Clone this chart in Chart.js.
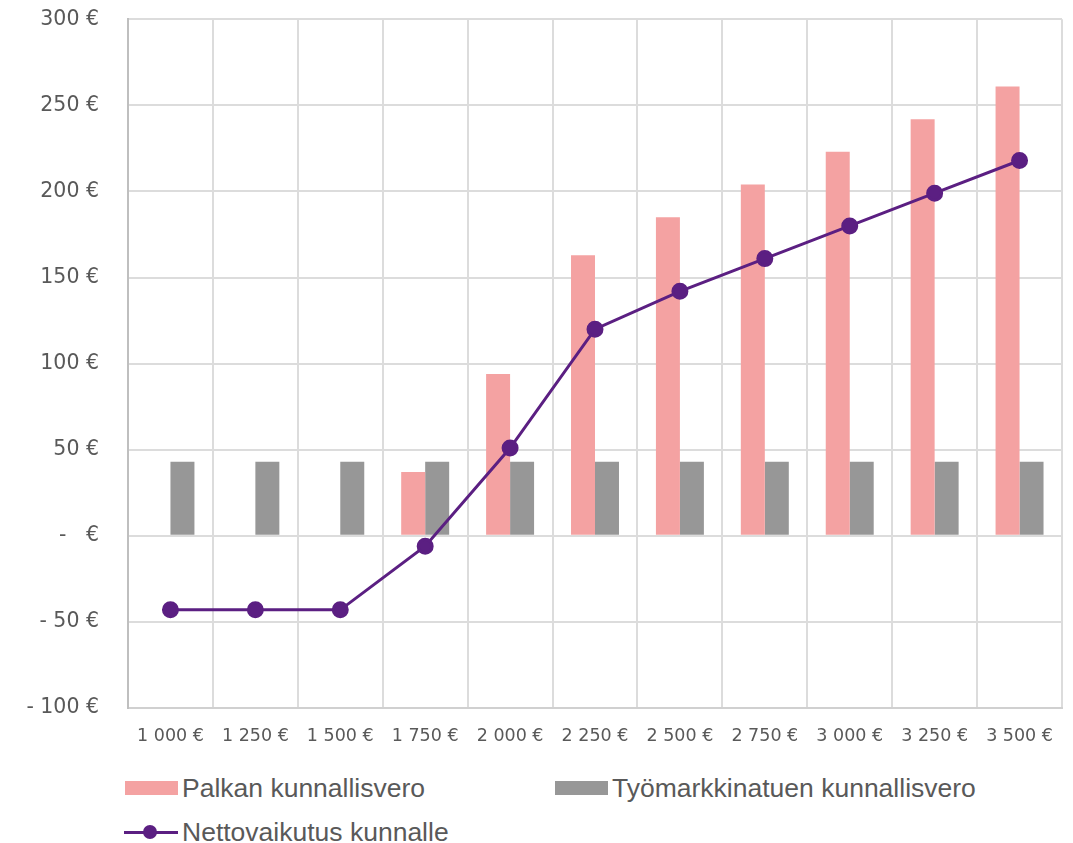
<!DOCTYPE html>
<html>
<head>
<meta charset="utf-8">
<script src="https://cdn.jsdelivr.net/npm/chart.js@4"></script>
<style>
  body { margin: 0; background: #fff; }
  #wrap { position: relative; width: 1073px; height: 843px; overflow: hidden; }
  #chartBox { position: absolute; left: 0; top: -22px; width: 1073px; height: 782px; }
  .legend { position: absolute; font-family: "Liberation Sans", Arial, sans-serif; font-size: 26.5px; color: #595959; white-space: nowrap; }
  .legend .sw { position: absolute; left: 0; top: 50%; }
  .legend span.txt { position: absolute; left: 57px; top: 50%; transform: translateY(-50%); }
</style>
</head>
<body>
<div id="wrap">
  <div id="chartBox"><canvas id="chart"></canvas></div>
  <div class="legend" style="left:125px; top:788px;">
    <div class="sw" style="width:53px; height:14px; margin-top:-7px; background:#f4a2a2;"></div>
    <span class="txt">Palkan kunnallisvero</span>
  </div>
  <div class="legend" style="left:555px; top:788px;">
    <div class="sw" style="width:53px; height:14px; margin-top:-7px; background:#979797;"></div>
    <span class="txt">Työmarkkinatuen kunnallisvero</span>
  </div>
  <div class="legend" style="left:124px; top:832px;">
    <div class="sw" style="width:54px; height:3px; margin-top:-1.5px; background:#5b1f82;"></div>
    <div class="sw" style="left:19px; width:14px; height:14px; margin-top:-7px; border-radius:50%; background:#5b1f82;"></div>
    <span class="txt" style="left:58px;">Nettovaikutus kunnalle</span>
  </div>
</div>
<script>
// Palkka (€ / kk)
const labels = ["1 000 €", "1 250 €", "1 500 €", "1 750 €", "2 000 €", "2 250 €", "2 500 €", "2 750 €", "3 000 €", "3 250 €", "3 500 €"];
const palkanVero = [0, 0, 0, 37, 94, 163, 185, 204, 223, 242, 261];
const tyomarkkinatuenVero = [43, 43, 43, 43, 43, 43, 43, 43, 43, 43, 43];
const nettovaikutus = [-43, -43, -43, -6, 51, 120, 142, 161, 180, 199, 218];

const tickFamily = "'DejaVu Sans', 'Noto Sans', sans-serif";

function euroLabel(v) {
    if (v === 0) return "-   €";
    if (v < 0) return "- " + Math.abs(v) + " €";
    return v + " €";
}

const ctx = document.getElementById('chart').getContext('2d');
const chart = new Chart(ctx, {
    type: 'bar',
    data: {
        labels: labels,
        datasets: [
            {
                type: 'line',
                label: 'Nettovaikutus kunnalle',
                data: nettovaikutus,
                borderColor: '#5b1f82',
                backgroundColor: '#5b1f82',
                borderWidth: 3,
                pointRadius: 7,
                pointHoverRadius: 7,
                tension: 0,
                order: 0
            },
            {
                label: 'Palkan kunnallisvero',
                data: palkanVero,
                backgroundColor: '#f4a2a2',
                order: 1
            },
            {
                label: 'Työmarkkinatuen kunnallisvero',
                data: tyomarkkinatuenVero,
                backgroundColor: '#979797',
                order: 1
            }
        ]
    },
    options: {
        responsive: true,
        maintainAspectRatio: false,
        animation: false,
        datasets: {
            bar: { categoryPercentage: 0.565, barPercentage: 1.0 }
        },
        layout: { padding: { left: 0, right: 11, top: 8, bottom: 0 } },
        plugins: {
            legend: { display: false },
            tooltip: { enabled: false }
        },
        scales: {
            x: {
                grid: { color: '#dcdcdc', lineWidth: 2, drawTicks: false, offset: true },
                border: { color: '#d0d0d0', width: 2 },
                ticks: { color: '#595959', font: { family: tickFamily, size: 17.5 }, padding: 18, maxRotation: 0, autoSkip: false },
                afterFit: (scale) => { scale.height = 52; }
            },
            y: {
                min: -100,
                max: 300,
                ticks: {
                    stepSize: 50,
                    color: '#595959',
                    font: { family: tickFamily, size: 20.5 },
                    padding: 29,
                    callback: (value) => euroLabel(value)
                },
                grid: { color: '#dcdcdc', lineWidth: 2, drawTicks: false },
                border: { color: '#bfbfbf', width: 2 },
                afterFit: (scale) => { scale.width = 128; }
            }
        }
    }
});
</script>
</body>
</html>
